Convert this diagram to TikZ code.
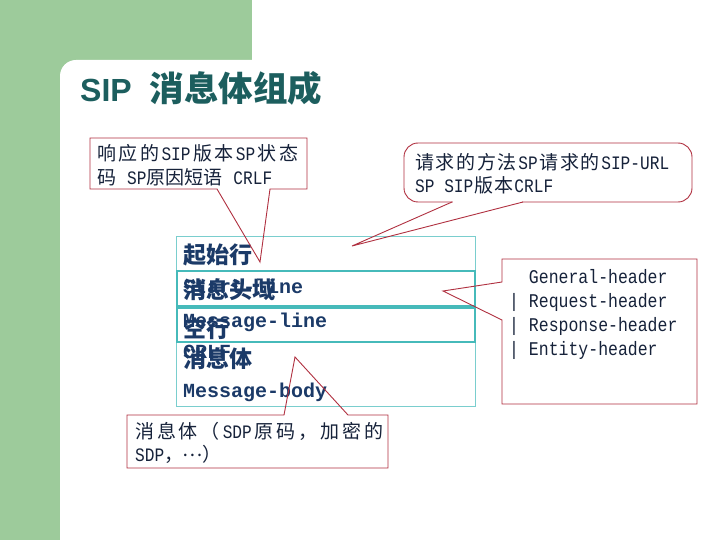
\documentclass[tikz,border=0pt]{standalone}
\usepackage{fontspec}
\setmainfont{Liberation Serif}
\setmonofont{Liberation Mono}
\newfontfamily\narrowmono{Liberation Mono}[FakeStretch=0.85]
\newfontfamily\cjk{Noto Sans CJK SC}
\newfontfamily\titlelat{Liberation Sans}
\newcommand\Cs[1]{{\cjk\fontsize{19}{23}\selectfont#1}}
\definecolor{bggreen}{RGB}{157,203,155}
\definecolor{titlecol}{RGB}{28,94,94}
\definecolor{calloutred}{RGB}{176,48,64}
\definecolor{calltext}{RGB}{22,34,58}
\definecolor{maintext}{RGB}{27,58,104}
\definecolor{outerteal}{RGB}{122,206,206}
\definecolor{hiteal}{RGB}{70,186,186}
\begin{document}
\begin{tikzpicture}[x=1pt,y=-1pt,
  callout/.style={draw=calloutred, line width=0.9pt, line join=miter},
  ctext/.style={inner sep=0pt, anchor=base west, text=calltext, font={\narrowmono\fontsize{19}{23}\selectfont}},
  htext/.style={inner sep=0pt, anchor=base west, text=calltext, font={\narrowmono\fontsize{19.4}{24}\selectfont}},
  mainlat/.style={inner sep=0pt, anchor=base west, text=maintext, font={\ttfamily\bfseries\fontsize{20}{24}\selectfont}},
  maincjk/.style={inner sep=0pt, anchor=base west, text=maintext, font={\cjk\bfseries\fontsize{23}{26}\selectfont}},
  outerbox/.style={draw=outerteal, line width=1pt},
  hibox/.style={draw=hiteal, line width=2.4pt}
]
\useasboundingbox (0,0) rectangle (720,540);
\fill[white] (0,0) rectangle (720,540);
% background
\fill[bggreen] (0,0) rectangle (252,60);
\fill[bggreen] (0,0) rectangle (60,540);
\fill[bggreen] (60,60) rectangle (80,80);
\fill[white, rounded corners=16pt] (60,60) rectangle (320,220);

% title
\node[inner sep=0pt, anchor=base west, text=titlecol] (title) at (80,102)
  {{\titlelat\bfseries\fontsize{32}{36}\selectfont SIP}\hspace{18pt}{\cjk\bfseries\fontsize{34.5}{38}\selectfont 消息体组成}};

% main box
\draw[outerbox] (176,236) rectangle (475,406);
\draw[hibox] (177,271) rectangle (475,306);
\draw[hibox] (177,308) rectangle (475,342);

\node[maincjk] (m1) at (183,263) {起始行};
\node[mainlat] (m2) at (183,293) {Start-line};
\node[maincjk] (m3) at (183,298) {消息头域};
\node[mainlat] (m4) at (183,327) {Message-line};
\node[maincjk] (m5) at (183,337) {空行};
\node[mainlat] (m6) at (183,358) {CRLF};
\node[maincjk] (m7) at (183,367) {消息体};
\node[mainlat] (m8) at (183,397) {Message-body};

% tips
\coordinate (tip1) at (260,262);
\coordinate (tip2) at (352,246);
\coordinate (tip3) at (443,291);
\coordinate (tip4) at (295,357);

% callout 1
\draw[callout] (270,189) -- (307,189) -- (307,138) -- (90,138) -- (90,189) -- (217,189) -- (tip1) -- cycle;
\node[ctext] (c1a) at (97,161) {\hbox to 201pt{\Cs{响}\hfil\Cs{应}\hfil\Cs{的}\hfil SIP\hfil\Cs{版}\hfil\Cs{本}\hfil SP\hfil\Cs{状}\hfil\Cs{态}}};
\node[ctext] (c1b) at (97,185) {\hbox to 175pt{\Cs{码}\hfil\ SP\Cs{原因短语}\hfil\ CRLF}};

% callout 2 (rounded)
\draw[callout, rounded corners=14pt] (404,143) rectangle (692,202);
\draw[white, line width=2.4pt] (453,202) -- (522,202);
\draw[callout] (452,202) -- (tip2) -- (523,202);
\node[ctext] (c2a) at (415,170) {\hbox to 254pt{\Cs{请}\hfil\Cs{求}\hfil\Cs{的}\hfil\Cs{方}\hfil\Cs{法}\hfil SP\hfil\Cs{请}\hfil\Cs{求}\hfil\Cs{的}\hfil SIP-URL}};
\node[ctext] (c2b) at (415,193) {\hbox to 138pt{SP SIP\hfil\Cs{版}\hfil\Cs{本}\hfil CRLF}};

% callout 3
\draw[callout] (502,282) -- (502,259) -- (697,259) -- (697,404) -- (502,404) -- (502,320) -- (tip3) -- cycle;
\node[htext] (c3a) at (509,283) {\phantom{| }General-header};
\node[htext] (c3b) at (509,307) {| Request-header};
\node[htext] (c3c) at (509,331) {| Response-header};
\node[htext] (c3d) at (509,355) {| Entity-header};

% callout 4
\draw[callout] (348,415) -- (388,415) -- (388,468) -- (127,468) -- (127,415) -- (284,415) -- (tip4) -- cycle;
\node[ctext] (c4a) at (135,438) {\hbox to 248pt{\Cs{消}\hfil\Cs{息}\hfil\Cs{体}\hfil\Cs{（}\hfil SDP\hfil\Cs{原}\hfil\Cs{码}\hfil\Cs{，}\hfil\Cs{加}\hfil\Cs{密}\hfil\Cs{的}}};
\node[ctext] (c4b) at (135,461) {SDP\Cs{，}\makebox[19pt]{\raisebox{5pt}{\Cs{…}}}\Cs{）}};
\end{tikzpicture}
\end{document}
